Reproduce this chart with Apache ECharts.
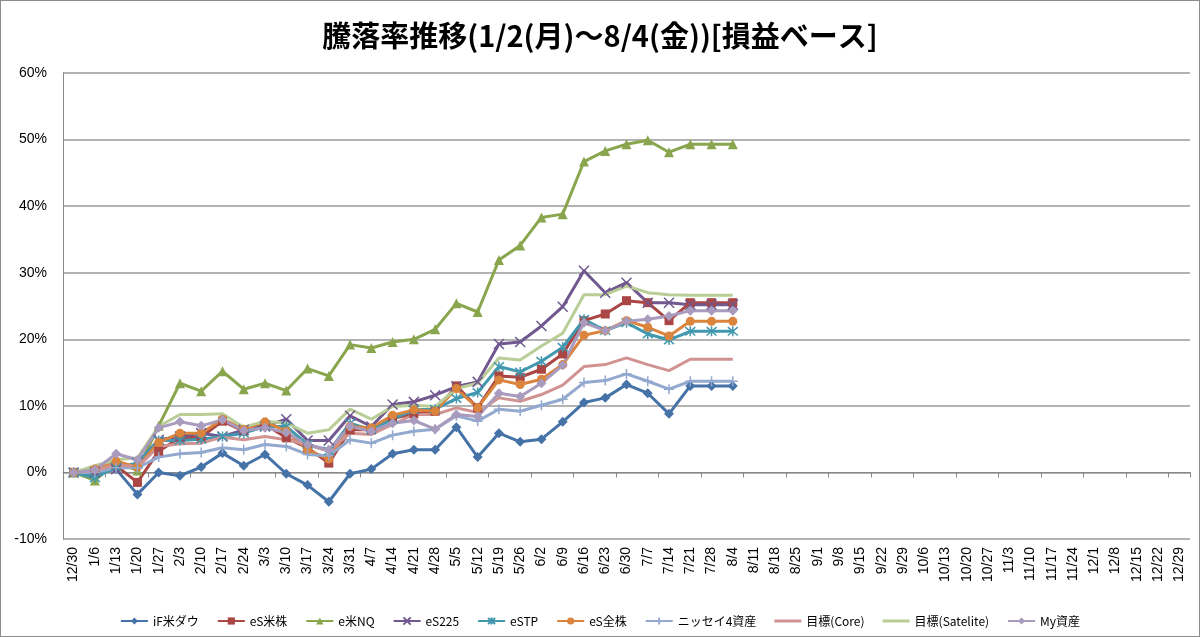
<!DOCTYPE html>
<html>
<head lang="ja">
    <meta charset="UTF-8">
    <title>騰落率推移</title>
    <script src="https://cdn.jsdelivr.net/npm/echarts@6/dist/echarts.min.js"></script>
    <style>
        html, body { margin: 0; padding: 0; background: #fff; }
        #chart { width: 1198px; height: 635px; border: 1px solid #8c8c8c; }
    </style>
</head>
<body>
<div id="chart"></div>
<script>
    // 週次の日付（12/30 〜 12/29）
    var weeks = ['12/30', '1/6', '1/13', '1/20', '1/27', '2/3', '2/10', '2/17', '2/24', '3/3',
        '3/10', '3/17', '3/24', '3/31', '4/7', '4/14', '4/21', '4/28', '5/5', '5/12',
        '5/19', '5/26', '6/2', '6/9', '6/16', '6/23', '6/30', '7/7', '7/14', '7/21',
        '7/28', '8/4', '8/11', '8/18', '8/25', '9/1', '9/8', '9/15', '9/22', '9/29',
        '10/6', '10/13', '10/20', '10/27', '11/3', '11/10', '11/17', '11/24', '12/1', '12/8',
        '12/15', '12/22', '12/29'];

    // 騰落率(%)
    var ifDow = [0, -0.2, 0.5, -3.3, 0, -0.5, 0.8, 2.9, 1.0, 2.7, -0.2, -1.9, -4.4, -0.2, 0.5, 2.8,
        3.4, 3.4, 6.8, 2.3, 5.9, 4.6, 5.0, 7.6, 10.5, 11.2, 13.2, 11.9, 8.8, 13.0, 13.0, 13.0];
    var esUs = [0, 0.2, 1.0, -1.5, 3.2, 5.2, 5.3, 7.7, 6.2, 7.2, 5.2, 3.7, 1.4, 6.4, 6.4, 8.1,
        8.8, 9.2, 13.0, 9.7, 14.5, 14.3, 15.5, 17.8, 22.8, 23.8, 25.8, 25.5, 22.8, 25.5, 25.5, 25.5];
    var eNq = [0, -1.2, 1.5, 0.3, 7.0, 13.4, 12.2, 15.2, 12.5, 13.4, 12.3, 15.6, 14.5, 19.2, 18.7, 19.6,
        20.0, 21.5, 25.4, 24.1, 31.9, 34.1, 38.3, 38.8, 46.7, 48.3, 49.3, 49.9, 48.1, 49.3, 49.3, 49.3];
    var es225 = [0, 0, 0.5, 1.4, 4.9, 5.4, 5.9, 5.4, 6.4, 6.9, 8.0, 4.8, 4.8, 8.5, 6.9, 10.2,
        10.6, 11.6, 12.9, 13.6, 19.3, 19.6, 22.0, 24.9, 30.3, 27.0, 28.5, 25.5, 25.5, 25.2, 25.2, 25.2];
    var estp = [0, -0.8, 0.8, 1.4, 4.8, 4.8, 5.0, 5.4, 5.9, 6.9, 6.9, 4.2, 3.2, 7.4, 6.4, 8.0,
        9.4, 9.5, 11.1, 12.0, 15.9, 15.1, 16.7, 18.8, 23.0, 21.3, 22.5, 20.8, 19.9, 21.2, 21.2, 21.2];
    var esAll = [0, 0.5, 1.7, 0.8, 4.5, 5.9, 5.9, 8.0, 6.5, 7.6, 6.2, 3.4, 2.0, 6.9, 6.7, 8.6,
        9.4, 9.2, 12.6, 9.7, 13.9, 13.2, 14.0, 16.2, 20.6, 21.3, 22.8, 21.8, 20.5, 22.7, 22.7, 22.7];
    var nissay = [0, 0, 0.7, 0.7, 2.3, 2.8, 3.0, 3.7, 3.4, 4.2, 3.9, 2.7, 2.5, 4.9, 4.4, 5.6,
        6.2, 6.5, 8.5, 7.7, 9.5, 9.2, 10.1, 11.0, 13.5, 13.8, 14.8, 13.7, 12.5, 13.7, 13.7, 13.7];
    var goalCore = [0, 0.3, 1.2, 0.8, 3.9, 4.3, 4.4, 5.3, 4.9, 5.4, 4.9, 4.2, 3.2, 5.9, 5.7, 7.2,
        8.7, 8.7, 9.7, 9.0, 11.2, 10.7, 11.7, 13.1, 15.9, 16.2, 17.2, 16.2, 15.3, 17.0, 17.0, 17.0];
    var goalSat = [0, 1.0, 1.9, 2.2, 6.9, 8.7, 8.7, 8.8, 6.8, 7.7, 7.4, 5.9, 6.4, 9.5, 8.0, 9.9,
        10.1, 9.9, 12.6, 13.4, 17.2, 16.9, 19.0, 20.9, 26.7, 26.7, 28.0, 27.0, 26.7, 26.6, 26.6, 26.6];
    var myAsset = [0, 0.4, 2.8, 1.9, 6.7, 7.6, 7.0, 7.9, 6.3, 6.7, 6.0, 4.2, 3.4, 6.9, 6.2, 7.4,
        7.8, 6.5, 8.7, 8.4, 11.9, 11.4, 13.4, 16.1, 22.5, 21.3, 22.7, 23.0, 23.5, 24.3, 24.3, 24.3];

    var yTicks = [-10, 0, 10, 20, 30, 40, 50, 60];

    var xMark = 'path://M0,0L10,10M10,0L0,10';
    var starMark = 'path://M0,0L10,10M10,0L0,10M5,-1L5,11';
    var plusMark = 'path://M5,0L5,10M1,5L9,5';
    var barIcon = 'path://M0,0L27,0L27,3L0,3Z';

    function mkLine(name, data, color, symbol, size, width, stroke) {
        var s = {
            name: name,
            type: 'line',
            data: data,
            xAxisIndex: 0,
            symbol: symbol,
            symbolSize: size,
            showSymbol: symbol !== 'none',
            lineStyle: { color: color, width: width },
            itemStyle: { color: color },
            emphasis: { disabled: true },
            z: 2
        };
        if (stroke) {
            s.itemStyle = { color: 'rgba(0,0,0,0)', borderColor: color, borderWidth: 1.5 };
        }
        return s;
    }

    var dom = document.getElementById('chart');
    var myChart = echarts.init(dom);
    var option = {
        animation: false,
        title: {
            text: '騰落率推移(1/2(月)～8/4(金))[損益ベース]',
            left: 'center',
            top: 15,
            textStyle: {
                fontFamily: 'Noto Sans CJK JP',
                fontSize: 29,
                fontWeight: 'bold',
                color: '#000'
            }
        },
        legend: {
            top: 609,
            left: 'center',
            itemGap: 18,
            itemWidth: 27,
            itemHeight: 9,
            textStyle: { fontFamily: 'Noto Sans CJK JP', fontSize: 12, color: '#000' },
            data: ['iF米ダウ', 'eS米株', 'e米NQ', 'eS225', 'eSTP', 'eS全株', 'ニッセイ4資産',
                { name: '目標(Core)', icon: barIcon },
                { name: '目標(Satelite)', icon: barIcon },
                'My資産']
        },
        grid: { left: 62, right: 9, top: 72, bottom: 97 },
        xAxis: [
            {
                type: 'category',
                data: weeks,
                boundaryGap: true,
                axisLine: { onZero: true, lineStyle: { color: '#888', width: 1 } },
                axisTick: { show: true, inside: false, length: 5, lineStyle: { color: '#888' } },
                axisLabel: { show: false }
            },
            {
                type: 'category',
                data: weeks,
                position: 'bottom',
                boundaryGap: true,
                axisLine: { show: false, onZero: false },
                axisTick: { show: false },
                axisLabel: {
                    rotate: 90,
                    interval: 0,
                    margin: 8,
                    fontFamily: 'Liberation Sans',
                    fontSize: 14,
                    color: '#000'
                }
            }
        ],
        yAxis: {
            type: 'value',
            min: yTicks[0],
            max: yTicks[yTicks.length - 1],
            interval: 10,
            axisLine: { show: true, lineStyle: { color: '#888' } },
            axisTick: { show: false },
            splitLine: { lineStyle: { color: '#9a9a9a', width: 1.5 } },
            axisLabel: {
                formatter: '{value}%',
                fontFamily: 'Liberation Sans',
                fontSize: 14,
                color: '#000',
                margin: 16
            }
        },
        series: [
            mkLine('iF米ダウ', ifDow, '#4572A7', 'diamond', 10, 3),
            mkLine('eS米株', esUs, '#AA4643', 'rect', 9, 3),
            mkLine('e米NQ', eNq, '#89A54E', 'triangle', 10, 3),
            mkLine('eS225', es225, '#71588F', xMark, 10, 3, true),
            mkLine('eSTP', estp, '#4198AF', starMark, 10, 3, true),
            mkLine('eS全株', esAll, '#DB843D', 'circle', 9, 3),
            mkLine('ニッセイ4資産', nissay, '#93A9CF', plusMark, 10, 3, true),
            mkLine('目標(Core)', goalCore, '#D19392', 'none', 0, 3),
            mkLine('目標(Satelite)', goalSat, '#B9CD96', 'none', 0, 3),
            mkLine('My資産', myAsset, '#A99BBD', 'diamond', 10, 3)
        ]
    };
    myChart.setOption(option, true);
</script>
</body>
</html>
